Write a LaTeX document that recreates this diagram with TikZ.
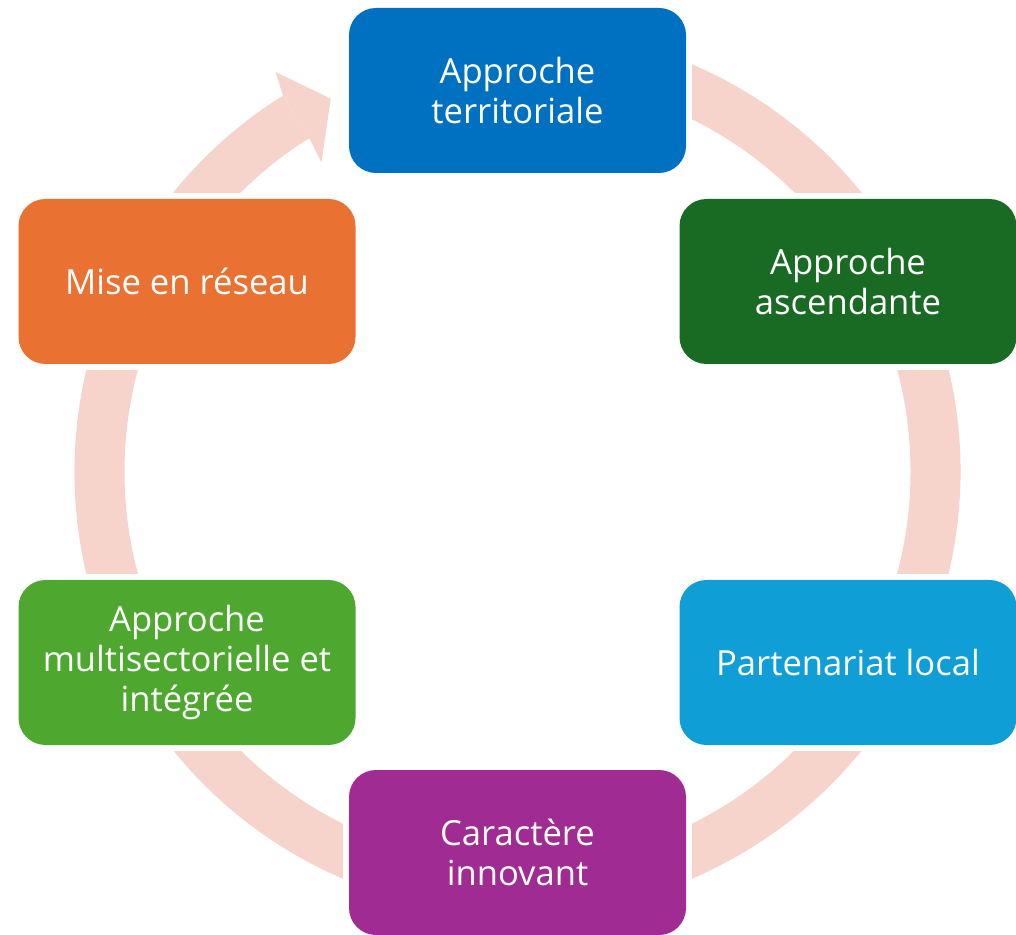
\documentclass[tikz,border=0pt]{standalone}
\usepackage{fontspec}
\setmainfont{Open Sans}
\usetikzlibrary{calc,backgrounds}
\definecolor{cBlue}{HTML}{0070C0}
\definecolor{cDkGreen}{HTML}{196B24}
\definecolor{cCyan}{HTML}{0F9ED5}
\definecolor{cPurple}{HTML}{A02B93}
\definecolor{cGreen}{HTML}{4EA72E}
\definecolor{cOrange}{HTML}{E97132}
\definecolor{cRing}{HTML}{F6D4CB}
\tikzset{
  box/.style={rectangle, rounded corners=27pt, minimum width=337pt, minimum height=165pt,
    inner sep=0pt, text=white, align=center, font=\fontsize{34.6}{40}\selectfont},
  gap/.style={fill=white}
}
\begin{document}
\begin{tikzpicture}[x=1pt,y=1pt]
\useasboundingbox (0,0) rectangle (1016,934);
\coordinate (c) at (517.5,462.5);
\node[box, fill=cBlue] (t) at (517.5,843.5) {Approche\\territoriale};
\node[box, fill=cDkGreen] (ru) at (848,652.5) {Approche\\ascendante};
\node[box, fill=cCyan] (rl) at (848,271.5) {Partenariat local};
\node[box, fill=cPurple] (b) at (517.5,81.5) {Caractère\\innovant};
\node[box, fill=cGreen] (ll) at (187,271.5) {Approche\\multisectorielle et\\intégrée};
\node[box, fill=cOrange] (lu) at (187,652.5) {Mise en réseau};
\begin{scope}[on background layer]
  \begin{scope}[shift={(c)}]
    \fill[cRing] (122:443) arc[start angle=122, end angle=450, radius=443]
      -- (450:393) arc[start angle=450, end angle=122, radius=393] -- cycle;
    \fill[cRing] (122:442) -- (121.2:467) -- (116.6:417) -- (122.4:366) -- (122:393) -- cycle;
  \end{scope}
  \foreach \n in {t,ru,rl,b,ll,lu}{
    \fill[gap] ([shift={(-6,-6)}]\n.south west) rectangle ([shift={(6,6)}]\n.north east);
  }
\end{scope}
\end{tikzpicture}
\end{document}
